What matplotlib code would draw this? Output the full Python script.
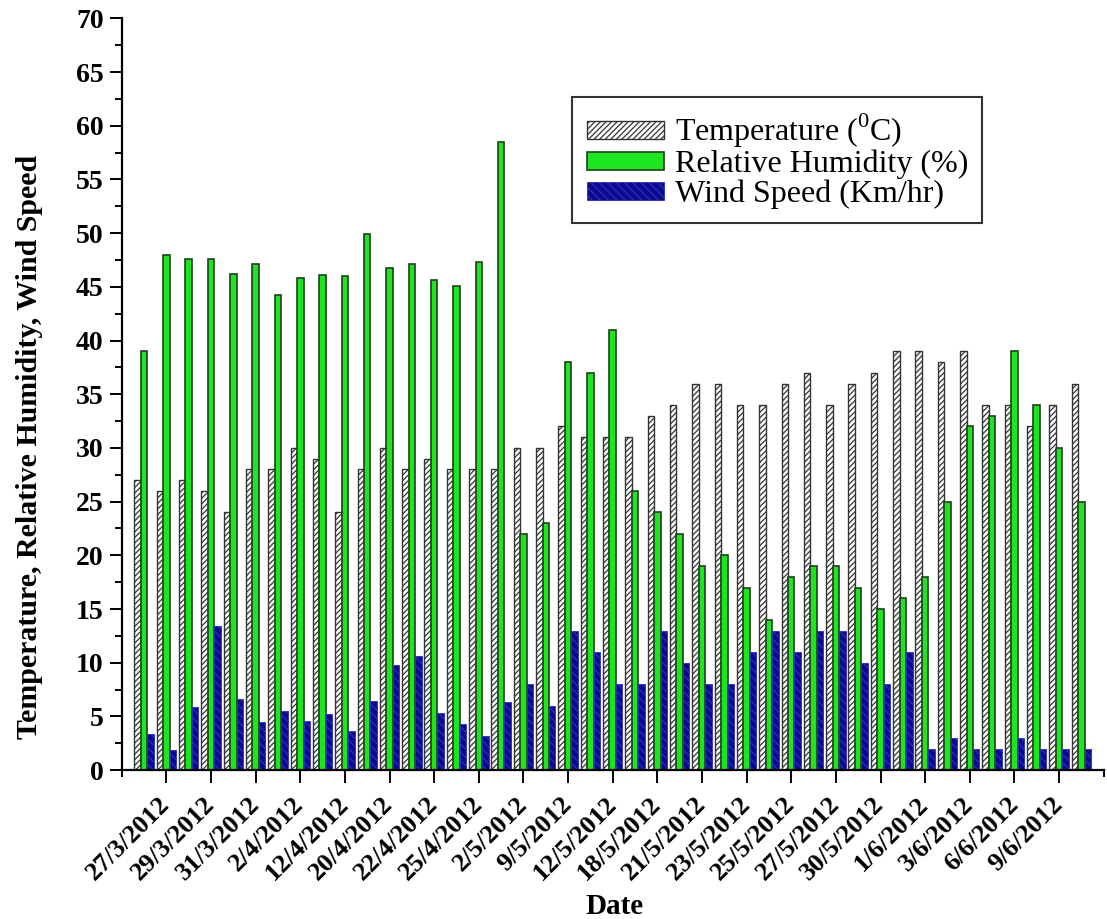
import numpy as np
import matplotlib
matplotlib.use("Agg")
import matplotlib.pyplot as plt
from matplotlib.ticker import FixedLocator, MultipleLocator

plt.rcParams['font.family'] = ['Liberation Serif', 'DejaVu Serif']
plt.rcParams['mathtext.fontset'] = 'custom'
plt.rcParams['mathtext.rm'] = 'Liberation Serif'
plt.rcParams['hatch.linewidth'] = 0.9

# ==========================================
# DATOS
# ==========================================
etiquetas_fecha = ['27/3/2012', '29/3/2012', '31/3/2012', '2/4/2012', '12/4/2012',
                   '20/4/2012', '22/4/2012', '25/4/2012', '2/5/2012', '9/5/2012',
                   '12/5/2012', '18/5/2012', '21/5/2012', '23/5/2012', '25/5/2012',
                   '27/5/2012', '30/5/2012', '1/6/2012', '3/6/2012', '6/6/2012',
                   '9/6/2012']

temperatura = [27, 26, 27, 26, 24, 28, 28, 30, 29, 24,
               28, 30, 28, 29, 28, 28, 28, 30, 30, 32,
               31, 31, 31, 33, 34, 36, 36, 34, 34, 36,
               37, 34, 36, 37, 39, 39, 38, 39, 34, 34,
               32, 34, 36]

humedad = [39, 48, 47.6, 47.6, 46.2, 47.1, 44.2, 45.8, 46.1, 46,
           49.9, 46.8, 47.1, 45.6, 45.1, 47.3, 58.5, 22, 23, 38,
           37, 41, 26, 24, 22, 19, 20, 17, 14, 18,
           19, 19, 17, 15, 16, 18, 25, 32, 33, 39,
           34, 30, 25]

viento = [3.4, 1.9, 5.9, 13.4, 6.6, 4.5, 5.5, 4.6, 5.2, 3.6,
          6.4, 9.8, 10.6, 5.3, 4.3, 3.2, 6.3, 8, 6, 13,
          11, 8, 8, 13, 10, 8, 8, 11, 13, 11,
          13, 13, 10, 8, 11, 2, 3, 2, 2, 3,
          2, 2, 2]

# ==========================================
# GRÁFICO
# ==========================================
fig = plt.figure(figsize=(11.07, 9.19), dpi=100)
ax = fig.add_axes([0.110, 0.162, 0.887, 0.818])

x = np.arange(len(temperatura))
ancho = 0.29

ax.bar(x - ancho, temperatura, ancho, color='white', edgecolor='#333333',
       hatch='//////', linewidth=1.0, label='Temperature ($^{0}$C)')
ax.bar(x, humedad, ancho, color='#1ee61e', edgecolor='#1f3f1f',
       linewidth=1.2, label='Relative Humidity (%)')
ax.bar(x + ancho, viento, ancho, color='#0c0c8a', edgecolor='#2a2ad0',
       hatch='\\\\\\\\', linewidth=0.6, label='Wind Speed (Km/hr)')

ax.set_xlim(-1, 43)
ax.set_ylim(0, 70)

# Ejes estilo Origin
for lado in ['top', 'right']:
    ax.spines[lado].set_visible(False)
for lado in ['left', 'bottom']:
    ax.spines[lado].set_linewidth(1.6)

pos_mayores = np.arange(1, 42, 2)
ax.xaxis.set_major_locator(FixedLocator(pos_mayores))
ax.xaxis.set_minor_locator(FixedLocator(np.arange(-1, 44, 2)))
ax.set_xticklabels(etiquetas_fecha, rotation=45, ha='right', va='center',
                   rotation_mode='anchor', fontsize=19, fontweight='bold')
ax.yaxis.set_major_locator(MultipleLocator(5))
ax.yaxis.set_minor_locator(MultipleLocator(2.5))
for lbl in ax.get_yticklabels():
    lbl.set_fontsize(20)
    lbl.set_fontweight('bold')

ax.tick_params(axis='x', which='major', direction='out', length=9, width=1.4, pad=13)
ax.tick_params(axis='x', which='minor', direction='out', length=5, width=1.4)
ax.tick_params(axis='y', which='major', direction='out', length=9, width=1.4, pad=4)
ax.tick_params(axis='y', which='minor', direction='out', length=5, width=1.4)

ax.set_ylabel('Temperature, Relative Humidity, Wind Speed', fontsize=21.5,
              fontweight='bold')
ax.yaxis.set_label_coords(-0.080, 0.43)
ax.set_xlabel('Date', fontsize=21, fontweight='bold')
ax.xaxis.set_label_coords(0.502, -0.163)

leyenda = ax.legend(loc='upper left', bbox_to_anchor=(0.459, 0.895),
                    borderaxespad=0, fontsize=23, frameon=True, fancybox=False,
                    edgecolor='black', handlelength=2.4, handleheight=0.5,
                    handletextpad=0.35, labelspacing=0.0, borderpad=0.45)
leyenda.get_frame().set_linewidth(1.5)

fig.savefig('out.png', dpi=100)
